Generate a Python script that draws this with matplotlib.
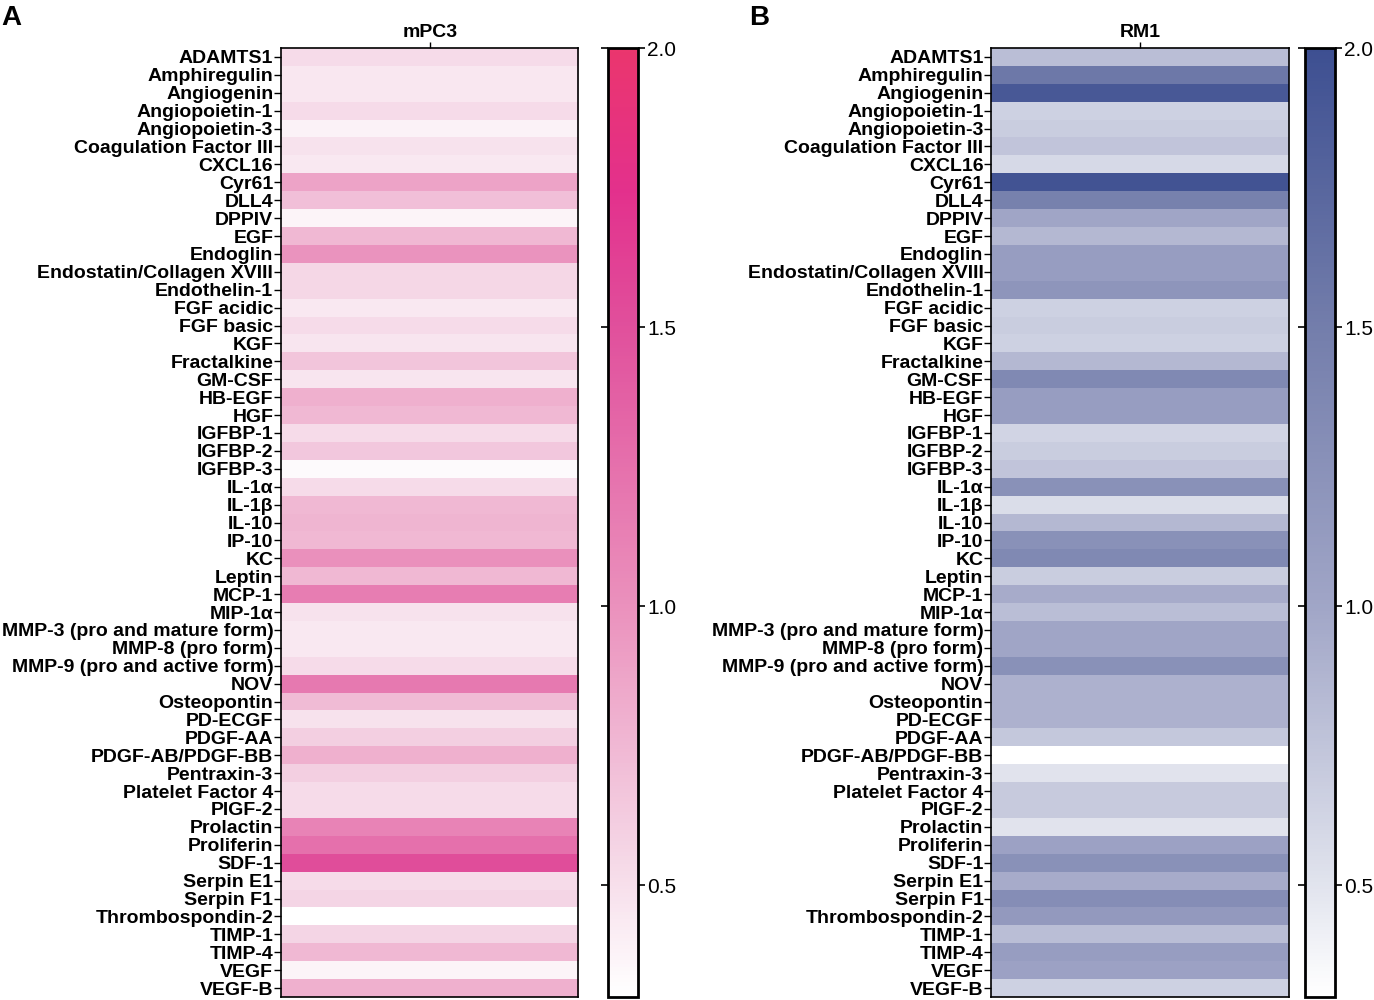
import numpy as np
import matplotlib
matplotlib.use('Agg')
import matplotlib.pyplot as plt
from matplotlib.colors import LinearSegmentedColormap, Normalize

proteinas = ["ADAMTS1", "Amphiregulin", "Angiogenin", "Angiopoietin-1", "Angiopoietin-3",
             "Coagulation Factor III", "CXCL16", "Cyr61", "DLL4", "DPPIV", "EGF", "Endoglin",
             "Endostatin/Collagen XVIII", "Endothelin-1", "FGF acidic", "FGF basic", "KGF",
             "Fractalkine", "GM-CSF", "HB-EGF", "HGF", "IGFBP-1", "IGFBP-2", "IGFBP-3",
             "IL-1α", "IL-1β", "IL-10", "IP-10", "KC", "Leptin", "MCP-1", "MIP-1α",
             "MMP-3 (pro and mature form)", "MMP-8 (pro form)", "MMP-9 (pro and active form)",
             "NOV", "Osteopontin", "PD-ECGF", "PDGF-AA", "PDGF-AB/PDGF-BB", "Pentraxin-3",
             "Platelet Factor 4", "PIGF-2", "Prolactin", "Proliferin", "SDF-1", "Serpin E1",
             "Serpin F1", "Thrombospondin-2", "TIMP-1", "TIMP-4", "VEGF", "VEGF-B"]

mpc3 = [0.52, 0.45, 0.45, 0.52, 0.38, 0.48, 0.44, 0.88, 0.70, 0.37, 0.75, 0.98,
        0.55, 0.55, 0.44, 0.52, 0.46, 0.66, 0.46, 0.80, 0.75, 0.52, 0.65, 0.33,
        0.52, 0.75, 0.77, 0.75, 1.00, 0.75, 1.15, 0.48, 0.44, 0.44, 0.52,
        1.18, 0.73, 0.48, 0.60, 0.80, 0.60, 0.52, 0.52, 1.10, 1.25, 1.52, 0.52,
        0.56, 0.30, 0.56, 0.75, 0.37, 0.80]

rm1 = [0.80, 1.55, 1.90, 0.65, 0.68, 0.75, 0.58, 1.95, 1.45, 1.00, 0.85, 1.10,
       1.10, 1.20, 0.65, 0.68, 0.65, 0.85, 1.35, 1.10, 1.10, 0.62, 0.68, 0.75,
       1.25, 0.55, 0.85, 1.25, 1.35, 0.68, 0.95, 0.80, 1.00, 1.00, 1.25,
       0.90, 0.90, 0.90, 0.72, 0.30, 0.50, 0.70, 0.70, 0.50, 1.05, 1.25, 0.95,
       1.30, 1.15, 0.80, 1.10, 1.05, 0.65]

vmin, vmax = 0.3, 2.0

# mapas de cor aproximados (branco -> cor forte)
rosa = LinearSegmentedColormap.from_list("rosa", [
    (0.0, (1, 1, 1)),
    (0.15, (0.96, 0.84, 0.90)),
    (0.41, (0.92, 0.57, 0.74)),
    (0.71, (0.88, 0.31, 0.61)),
    (0.85, (0.89, 0.19, 0.55)),
    (1.0, (0.92, 0.21, 0.43))])
azul = LinearSegmentedColormap.from_list("azul", [
    (0.0, (1, 1, 1)),
    (0.12, (0.88, 0.89, 0.93)),
    (0.41, (0.63, 0.65, 0.78)),
    (0.71, (0.45, 0.49, 0.67)),
    (1.0, (0.24, 0.31, 0.57))])

fonte = ['Liberation Sans Narrow', 'Liberation Sans', 'DejaVu Sans']
norm = Normalize(vmin=vmin, vmax=vmax)

fig = plt.figure(figsize=(13.74, 10), dpi=100)

def painel(left, cleft, valores, cmap, titulo, letra, lx):
    ax = fig.add_axes([left, 0.003, 0.2165, 0.949])
    im = ax.imshow(np.array(valores).reshape(-1, 1), cmap=cmap, norm=norm,
                   aspect='auto', interpolation='nearest')
    ax.set_yticks(range(len(proteinas)))
    ax.set_yticklabels(proteinas, family=fonte, fontweight='bold', fontsize=14)
    ax.tick_params(axis='y', length=5, width=1, pad=0.5)
    ax.xaxis.tick_top()
    ax.set_xticks([0])
    ax.set_xticklabels([titulo], family=fonte, fontweight='bold', fontsize=14)
    ax.tick_params(axis='x', length=4, width=1, pad=1)
    for s in ax.spines.values():
        s.set_linewidth(1.2)

    cax = fig.add_axes([cleft, 0.003, 0.0215, 0.949])
    cb = fig.colorbar(im, cax=cax, ticks=[0.5, 1.0, 1.5, 2.0], format='%.1f')
    cb.outline.set_linewidth(2)
    cax.tick_params(labelsize=15, length=5, width=1.2, direction='out', left=True, pad=2)
    for t in cax.get_yticklabels():
        t.set_family(['Liberation Sans', 'DejaVu Sans'])
    fig.text(lx, 0.995, letra, fontsize=20, fontweight='bold', va='top',
             family=['Liberation Sans', 'DejaVu Sans'])

painel(0.2045, 0.4425, mpc3, rosa, "mPC3", "A", 0.001)
painel(0.7213, 0.9498, rm1, azul, "RM1", "B", 0.545)

plt.savefig("out.png", dpi=100)
